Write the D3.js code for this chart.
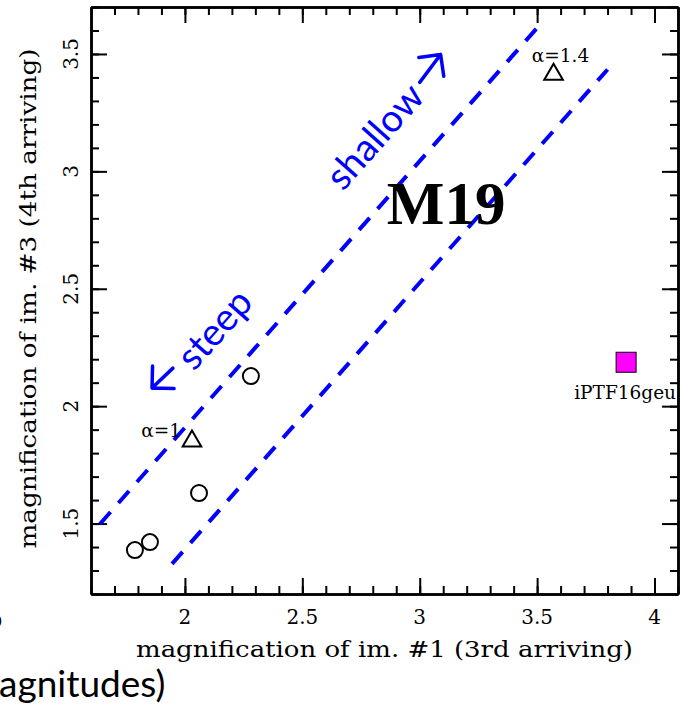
<!DOCTYPE html>
<html>
<head>
<meta charset="utf-8">
<script src="https://cdn.jsdelivr.net/npm/d3@7"></script>
<style>
  body { margin: 0; background: #fff; }
  svg { display: block; }
</style>
</head>
<body>
<script>
// model points (open circles)
const circleX = [1.787, 1.851, 2.06, 2.281];
const circleY = [1.387, 1.421, 1.63, 2.128];
// alpha models (open triangles)
const triX = [2.03, 3.57];
const triY = [1.855, 3.417];
const triLabels = ["α=1", "α=1.4"];
// observed lens
const obsX = [3.879];
const obsY = [2.187];
const obsLabels = ["iPTF16geu"];
// dashed band edges: [x, y] start and end
const upperLine = [[1.638, 1.498], [3.498, 3.609]];
const lowerLine = [[1.945, 1.328], [3.8, 3.434]];
// tick labels
const xTicks = [2, 2.5, 3, 3.5, 4];
const xTickLabels = ["2", "2.5", "3", "3.5", "4"];
const yTicks = [1.5, 2, 2.5, 3, 3.5];
const yTickLabels = ["1.5", "2", "2.5", "3", "3.5"];

let width = 682;
let height = 711;
let margin = { top: 7, right: 4, bottom: 117, left: 91 };

let svg = d3.select("body").append("svg")
    .attr("width", width)
    .attr("height", height);

let x = d3.scaleLinear().domain([1.6, 4.1]).range([margin.left, width - margin.right]);
let y = d3.scaleLinear().domain([1.2, 3.7]).range([height - margin.bottom, margin.top]);

let serif = "'DejaVu Serif', serif";
let sans = "Lato, 'Open Sans', sans-serif";

// frame + ticks on all four sides
function ticked(axis, g, size, values) {
    g.call(axis.tickValues(values).tickSizeInner(size).tickSizeOuter(0).tickFormat(""));
    g.selectAll(".tick line").attr("stroke-width", 2);
    g.select(".domain").attr("stroke-width", 2.5);
}
let minor = x.ticks(25);
let minorY = y.ticks(25);
let gB = svg.append("g").attr("transform", `translate(0,${y.range()[0]})`);
ticked(d3.axisBottom(x), gB.append("g"), -8, minor);
ticked(d3.axisBottom(x), gB.append("g"), -16, xTicks);
let gT = svg.append("g").attr("transform", `translate(0,${y.range()[1]})`);
ticked(d3.axisTop(x), gT.append("g"), -8, minor);
ticked(d3.axisTop(x), gT.append("g"), -16, xTicks);
let gL = svg.append("g").attr("transform", `translate(${x.range()[0]},0)`);
ticked(d3.axisLeft(y), gL.append("g"), -8, minorY);
ticked(d3.axisLeft(y), gL.append("g"), -16, yTicks);
let gR = svg.append("g").attr("transform", `translate(${x.range()[1]},0)`);
ticked(d3.axisRight(y), gR.append("g"), -8, minorY);
ticked(d3.axisRight(y), gR.append("g"), -16, yTicks);

// tick labels
svg.append("g").selectAll("text")
    .data(xTicks)
    .join("text")
    .attr("x", d => x(d))
    .attr("y", y.range()[0] + 30)
    .attr("text-anchor", "middle")
    .style("font-family", serif)
    .style("font-size", "20px")
    .text((d, i) => xTickLabels[i]);

svg.append("g").selectAll("text")
    .data(yTicks)
    .join("text")
    .attr("transform", d => `translate(${x.range()[0] - 13},${y(d)}) rotate(-90)`)
    .attr("text-anchor", "middle")
    .style("font-family", serif)
    .style("font-size", "20px")
    .text((d, i) => yTickLabels[i]);

// axis titles
svg.append("text")
    .attr("x", (x.range()[0] + x.range()[1]) / 2)
    .attr("y", 657)
    .attr("text-anchor", "middle")
    .attr("textLength", 497)
    .attr("lengthAdjust", "spacingAndGlyphs")
    .style("font-family", serif)
    .style("font-size", "22px")
    .text("magnification of im. #1 (3rd arriving)");

svg.append("text")
    .attr("transform", `translate(36,${(y.range()[0] + y.range()[1]) / 2 - 2}) rotate(-90)`)
    .attr("text-anchor", "middle")
    .attr("textLength", 500)
    .attr("lengthAdjust", "spacingAndGlyphs")
    .style("font-family", serif)
    .style("font-size", "22px")
    .text("magnification of im. #3 (4th arriving)");

// dashed band
let line = d3.line().x(d => x(d[0])).y(d => y(d[1]));
svg.append("g").selectAll("path")
    .data([upperLine, lowerLine])
    .join("path")
    .attr("d", line)
    .attr("fill", "none")
    .attr("stroke", "#0000ff")
    .attr("stroke-width", 4)
    .attr("stroke-dasharray", "16,12");

// circles
svg.append("g").selectAll("circle")
    .data(circleX)
    .join("circle")
    .attr("cx", d => x(d))
    .attr("cy", (d, i) => y(circleY[i]))
    .attr("r", 8)
    .attr("fill", "none")
    .attr("stroke", "#000")
    .attr("stroke-width", 2);

// triangles
let tri = d3.symbol().type(d3.symbolTriangle).size(150);
svg.append("g").selectAll("path")
    .data(triX)
    .join("path")
    .attr("d", tri)
    .attr("transform", (d, i) => `translate(${x(d)},${y(triY[i]) + 1})`)
    .attr("fill", "none")
    .attr("stroke", "#000")
    .attr("stroke-width", 2);

svg.append("text")
    .attr("x", x(triX[0]) - 11)
    .attr("y", y(triY[0]) - 3)
    .attr("text-anchor", "end")
    .style("font-family", serif)
    .style("font-size", "18.5px")
    .text(triLabels[0]);
svg.append("text")
    .attr("x", x(triX[1]) + 7)
    .attr("y", y(triY[1]) - 11)
    .attr("text-anchor", "middle")
    .style("font-family", serif)
    .style("font-size", "18.5px")
    .text(triLabels[1]);

// observed square
svg.append("g").selectAll("rect")
    .data(obsX)
    .join("rect")
    .attr("x", d => x(d) - 10)
    .attr("y", (d, i) => y(obsY[i]) - 10)
    .attr("width", 20)
    .attr("height", 20)
    .attr("fill", "#ff00ff")
    .attr("stroke", "#000")
    .attr("stroke-width", 1);
svg.append("text")
    .attr("x", x(obsX[0]) - 1)
    .attr("y", y(obsY[0]) + 37)
    .attr("text-anchor", "middle")
    .style("font-family", serif)
    .style("font-size", "18.5px")
    .text(obsLabels[0]);

// big label
svg.append("text")
    .attr("x", x(2.86))
    .attr("y", y(2.774))
    .style("font-family", "'Liberation Serif', serif")
    .style("font-weight", "bold")
    .style("font-size", "61px")
    .text("M19");

// shallow / steep annotations
let angle = -48.5;
svg.append("text")
    .attr("transform", `translate(${x(2.673)},${y(2.912)}) rotate(${angle})`)
    .attr("fill", "#0000ff")
    .style("font-family", sans)
    .style("font-size", "38px")
    .text("shallow");
svg.append("text")
    .attr("transform", `translate(${x(2.039)},${y(2.145)}) rotate(${angle})`)
    .attr("fill", "#0000ff")
    .style("font-family", sans)
    .style("font-size", "38px")
    .text("steep");

function arrow(tail, tip) {
    let x0 = x(tail[0]), y0 = y(tail[1]), x1 = x(tip[0]), y1 = y(tip[1]);
    let a = Math.atan2(y0 - y1, x0 - x1);
    let len = 22;
    let p = d3.path();
    p.moveTo(x0, y0);
    p.lineTo(x1, y1);
    p.moveTo(x1 + len * Math.cos(a - Math.PI / 4), y1 + len * Math.sin(a - Math.PI / 4));
    p.lineTo(x1, y1);
    p.lineTo(x1 + len * Math.cos(a + Math.PI / 4), y1 + len * Math.sin(a + Math.PI / 4));
    svg.append("path")
        .attr("d", p.toString())
        .attr("fill", "none")
        .attr("stroke", "#0000ff")
        .attr("stroke-width", 3.5)
        .attr("stroke-linecap", "round")
        .attr("stroke-linejoin", "round");
}
arrow([3.0, 3.379], [3.089, 3.498]);
arrow([1.949, 2.162], [1.86, 2.077]);

// cropped slide text
svg.append("text")
    .attr("x", -1)
    .attr("y", 697)
    .style("font-family", "Lato, 'Open Sans', sans-serif")
    .style("font-size", "37px")
    .text("agnitudes)");
svg.append("text")
    .attr("x", -13)
    .attr("y", 628)
    .style("font-family", "Lato, 'Open Sans', sans-serif")
    .style("font-size", "27px")
    .text("o");
</script>
</body>
</html>
